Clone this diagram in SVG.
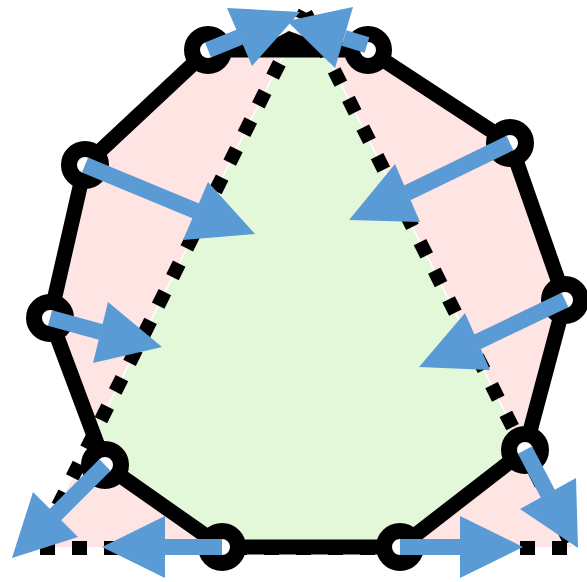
<svg xmlns="http://www.w3.org/2000/svg" width="587" height="582" viewBox="0 0 587 582">
  <defs>
    <style>
      .pink { fill: #ffe4e4; stroke: none; }
      .green { fill: #e3f8d9; stroke: none; }
      .seam { fill: none; stroke: #ffffff; stroke-width: 1.5; }
      .dots { fill: none; stroke: #000000; stroke-width: 14; stroke-dasharray: 15 17; stroke-linecap: butt; }
      .edge { fill: none; stroke: #000000; stroke-width: 15; stroke-linejoin: round; }
      .vertex { fill: #ffffff; stroke: #000000; stroke-width: 16; }
      .shaft { fill: none; stroke: #5b9bd5; stroke-width: 16; stroke-linecap: butt; }
      .head { fill: #5b9bd5; stroke: none; }
    </style>
  </defs>
  <rect x="0" y="0" width="587" height="582" fill="#ffffff"/>

  <g id="regions">
    <polygon class="pink" points="208,50 368,50 510,143 565,300 525,450 400,547 222,547 105,465 50,318 85,165"/>
    <polygon class="pink" points="305,12 573,548 37,548"/>
    <polygon class="green" points="286,50 324,50 524,450 400,547 222,547 105,465 93.7,434.7"/>
    <polygon class="seam" points="305,12 573,548 37,548"/>
  </g>

  <g id="target-triangle">
    <line class="dots" x1="305" y1="12" x2="37" y2="548" stroke-dashoffset="6.7"/>
    <line class="dots" x1="305" y1="12" x2="573" y2="548" stroke-dashoffset="30.8"/>
    <line class="dots" x1="567" y1="548" x2="37" y2="548"/>
  </g>

  <g id="source-polygon">
    <polygon class="edge" points="208,50 368,50 510,143 565,300 525,450 400,547 222,547 105,465 50,318 85,165"/>
    <polygon points="253,50 289,31 340,50" fill="#000000"/>
  </g>

  <g id="vertices">
    <g id="v1"><circle class="vertex" cx="208" cy="50" r="16"/></g>
    <g id="v2"><circle class="vertex" cx="368" cy="50" r="16"/></g>
    <g id="v3"><circle class="vertex" cx="510" cy="143" r="16"/></g>
    <g id="v4"><circle class="vertex" cx="565" cy="300" r="16"/></g>
    <g id="v5"><circle class="vertex" cx="525" cy="450" r="16"/></g>
    <g id="v6"><circle class="vertex" cx="400" cy="547" r="16"/></g>
    <g id="v7"><circle class="vertex" cx="222" cy="547" r="16"/></g>
    <g id="v8"><circle class="vertex" cx="105" cy="465" r="16"/></g>
    <g id="v9"><circle class="vertex" cx="50" cy="318" r="16"/></g>
    <g id="v10"><circle class="vertex" cx="85" cy="165" r="16"/></g>
  </g>

  <g id="connectors">
    <line class="shaft" x1="208" y1="50" x2="240" y2="37"/>
    <polygon class="head" points="227,8 252,66 300,12"/>
    <line class="shaft" x1="367" y1="45" x2="344" y2="38"/>
    <polygon class="head" points="353,7 335,68 287,21"/>
    <line class="shaft" x1="85" y1="165" x2="196" y2="211"/>
    <polygon class="head" points="208,182 183,240 255,234"/>
    <line class="shaft" x1="50" y1="318" x2="101" y2="332"/>
    <polygon class="head" points="108,302 93,363 162,347"/>
    <line class="shaft" x1="510" y1="143" x2="407" y2="193"/>
    <polygon class="head" points="395,164 420,222 349,220"/>
    <line class="shaft" x1="565" y1="300" x2="477" y2="342"/>
    <polygon class="head" points="465,313 490,370 419,367"/>
    <line class="shaft" x1="525" y1="450" x2="548" y2="494"/>
    <polygon class="head" points="576,478 520,509 578,548"/>
    <line class="shaft" x1="400" y1="547" x2="461" y2="547"/>
    <polygon class="head" points="460,516 460,578 523,547"/>
    <line class="shaft" x1="222" y1="547" x2="164" y2="547"/>
    <polygon class="head" points="165,516 165,578 102,547"/>
    <line class="shaft" x1="105" y1="465" x2="55" y2="515"/>
    <polygon class="head" points="33,492 78,537 12,558"/>
  </g>
</svg>
